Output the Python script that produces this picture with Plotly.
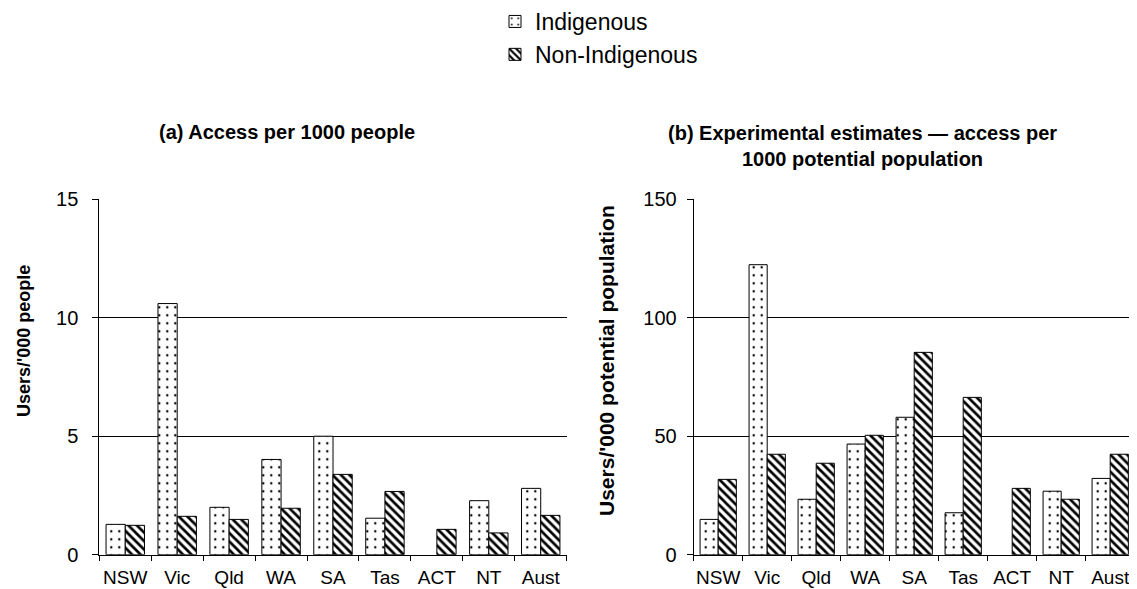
import plotly.graph_objects as go

W, H = 1137, 589
OFFSET = 8  # page body margin in the browser

categories = ["NSW", "Vic", "Qld", "WA", "SA", "Tas", "ACT", "NT", "Aust"]

# (a) Access per 1000 people
a_indigenous = [1.28, 10.6, 2.0, 4.02, 5.0, 1.54, None, 2.28, 2.8]
a_non_indigenous = [1.24, 1.62, 1.49, 1.96, 3.39, 2.67, 1.07, 0.92, 1.66]

# (b) Experimental estimates — access per 1000 potential population
b_indigenous = [14.9, 122.4, 23.4, 46.7, 58.0, 17.7, None, 26.8, 32.2]
b_non_indigenous = [31.8, 42.4, 38.6, 50.4, 85.4, 66.4, 28.0, 23.4, 42.4]

a_ticks = [0, 5, 10, 15]
b_ticks = [0, 50, 100, 150]

FONT = "Liberation Sans, Arial, sans-serif"


def px(x):
    return (x - OFFSET) / W


def py(y):
    return 1 - (y - OFFSET) / H


dot_pattern = dict(shape=".", size=8, solidity=0.07, fgcolor="black", bgcolor="white", fillmode="replace")
stripe_pattern = dict(shape="\\", size=6, solidity=0.45, fgcolor="black", bgcolor="white", fillmode="replace")

fig = go.Figure()

for xa, ya, ind, non, show in [("x", "y", a_indigenous, a_non_indigenous, True),
                               ("x2", "y2", b_indigenous, b_non_indigenous, False)]:
    fig.add_trace(go.Bar(
        x=categories, y=ind, name="Indigenous", xaxis=xa, yaxis=ya,
        marker=dict(color="white", pattern=dot_pattern, line=dict(color="black", width=1)),
        showlegend=show, legendgroup="ind",
    ))
    fig.add_trace(go.Bar(
        x=categories, y=non, name="Non-Indigenous", xaxis=xa, yaxis=ya,
        marker=dict(color="white", pattern=stripe_pattern, line=dict(color="black", width=1)),
        showlegend=show, legendgroup="non",
    ))

y_dom = [py(554.7), py(199.3)]

x_common = dict(
    showline=True, linecolor="black", linewidth=1, automargin=False,
    ticks="outside", tickcolor="black", tickwidth=1, ticklen=5,
    tickson="boundaries", tickangle=0, ticklabelstandoff=5, showgrid=False,
    tickfont=dict(family=FONT, size=19, color="black"),
)
y_common = dict(
    showline=True, linecolor="black", linewidth=1, automargin=False,
    ticks="outside", tickcolor="black", tickwidth=1, ticklen=6,
    showgrid=True, gridcolor="black", gridwidth=1, zeroline=False,
    tickfont=dict(family=FONT, size=20, color="black"),
)

fig.update_layout(
    template="none",
    width=W, height=H,
    margin=dict(l=0, r=0, t=0, b=0, autoexpand=False),
    paper_bgcolor="white", plot_bgcolor="white",
    barmode="group", bargap=0.26, bargroupgap=0,
    font=dict(family=FONT, color="black"),
    xaxis=dict(domain=[px(99.3), px(566.7)], anchor="y", **x_common),
    yaxis=dict(domain=y_dom, anchor="x", range=[0, 15], tickvals=a_ticks,
               ticklabelstandoff=10, **y_common),
    xaxis2=dict(domain=[px(693.7), px(1134.7)], anchor="y2", **x_common),
    yaxis2=dict(domain=y_dom, anchor="x2", range=[0, 150], tickvals=b_ticks,
                ticklabelstandoff=6, **y_common),
    legend=dict(
        x=px(495), y=py(0), xanchor="left", yanchor="top",
        orientation="v", font=dict(family=FONT, size=23, color="black"),
        itemwidth=30, tracegroupgap=0, bgcolor="rgba(0,0,0,0)",
    ),
    annotations=[
        dict(text="<b>(a) Access per 1000 people</b>", x=px(287), y=py(132), xref="paper", yref="paper",
             showarrow=False, xanchor="center", yanchor="middle", font=dict(family=FONT, size=20)),
        dict(text="<b>(b) Experimental estimates — access per<br>1000 potential population</b>",
             x=px(862), y=py(146), xref="paper", yref="paper",
             showarrow=False, xanchor="center", yanchor="middle", font=dict(family=FONT, size=20)),
        dict(text="<b>Users/'000 people</b>", x=px(24), y=py(341), xref="paper", yref="paper",
             showarrow=False, textangle=-90, xanchor="center", yanchor="middle",
             font=dict(family=FONT, size=18)),
        dict(text="<b>Users/'000 potential population</b>", x=px(606), y=py(361), xref="paper", yref="paper",
             showarrow=False, textangle=-90, xanchor="center", yanchor="middle",
             font=dict(family=FONT, size=21)),
    ],
)

fig.write_html("out.html")
